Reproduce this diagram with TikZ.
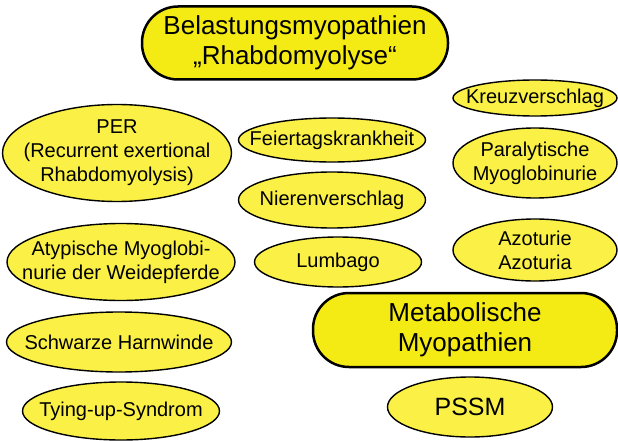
\documentclass[tikz,border=0pt]{standalone}
\usepackage{fontspec}
\setmainfont{Liberation Sans}
\usetikzlibrary{shapes.geometric}
\definecolor{headyellow}{RGB}{245,235,20}
\definecolor{ovalyellow}{RGB}{250,240,70}

\begin{document}
\begin{tikzpicture}[x = 1pt, y = 1pt]
\tikzstyle{HeadStyle}=[draw, line width = 2.5pt,
                       fill = headyellow,
                       rounded corners = 36pt,
                       align = center, inner sep = 0pt,
                       font = \fontsize{26}{30}\selectfont]
\tikzstyle{OvalStyle}=[draw, ellipse, line width = 1.4pt,
                       fill = ovalyellow, inner sep = 0pt]
\tikzstyle{OvalText}=[align = center, inner sep = 0pt,
                      font = \fontsize{20}{24}\selectfont]
\useasboundingbox (0,0) rectangle (618,440);
% headings
\node[HeadStyle, minimum width = 306pt, minimum height = 73pt] (belastung) at (295,397) {Belastungsmyopathien\\„Rhabdomyolyse“};
\node[HeadStyle, minimum width = 304pt, minimum height = 74pt] (metabol) at (465,110) {Metabolische\\Myopathien};
% left column
\node[OvalStyle, minimum width = 229pt, minimum height = 97pt, label = {[OvalText]center:PER\\(Recurrent exertional\\Rhabdomyolysis)}] (per) at (117,287) {};
\node[OvalStyle, minimum width = 228pt, minimum height = 77pt, label = {[OvalText]center:Atypische Myoglobi-\\nurie der Weidepferde}] (atypisch) at (121,178) {};
\node[OvalStyle, minimum width = 225pt, minimum height = 60pt, label = {[OvalText]center:Schwarze Harnwinde}] (schwarz) at (119,98) {};
\node[OvalStyle, minimum width = 197pt, minimum height = 58pt, label = {[OvalText]center:Tying-up-Syndrom}] (tying) at (121,29) {};
% middle column
\node[OvalStyle, minimum width = 187pt, minimum height = 44pt, label = {[OvalText]center:Feiertagskrankheit}] (feiertag) at (332,300) {};
\node[OvalStyle, minimum width = 187pt, minimum height = 56pt, label = {[OvalText]center:Nierenverschlag}] (nieren) at (332,240) {};
\node[OvalStyle, minimum width = 167pt, minimum height = 50pt, label = {[OvalText]center:Lumbago}] (lumbago) at (338,178) {};
% right column
\node[OvalStyle, minimum width = 164pt, minimum height = 36pt, label = {[OvalText]center:Kreuzverschlag}] (kreuz) at (535,342) {};
\node[OvalStyle, minimum width = 164pt, minimum height = 70pt, label = {[OvalText]center:Paralytische\\Myoglobinurie}] (paralyt) at (535,277) {};
\node[OvalStyle, minimum width = 164pt, minimum height = 62pt, label = {[OvalText]center:Azoturie\\Azoturia}] (azoturie) at (535,190) {};
\node[OvalStyle, minimum width = 165pt, minimum height = 60pt, label = {[OvalText, font = \fontsize{25}{30}\selectfont]center:PSSM}] (pssm) at (470,33) {};
\end{tikzpicture}
\end{document}
